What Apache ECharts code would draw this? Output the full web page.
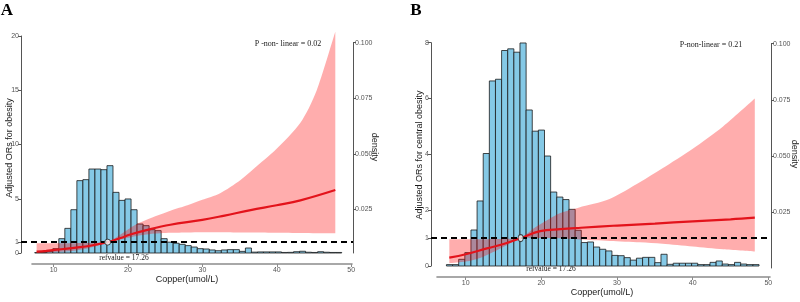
<!DOCTYPE html>
<html><head><meta charset="utf-8">
<script src="https://cdn.jsdelivr.net/npm/echarts@6/dist/echarts.min.js"></script>
<style>html,body{margin:0;padding:0;background:#fff}#c{width:800px;height:302px}</style>
</head><body><div id="c"></div>
<script>
// ---------- data ----------
const xTicks = [10, 20, 30, 40, 50];
const yTicksA = [0, 1, 5, 10, 15, 20];
const yTicksB = [0, 1, 2, 4, 6, 8];
const densityTicks = [0.025, 0.05, 0.075, 0.1];

const binStart = 7.45;
const binWidth = 0.81;
const histA = [0.04,0.04,0.15,0.4,1.32,2.27,3.99,6.67,6.76,7.74,7.74,7.68,8.05,5.59,4.85,4.98,3.99,2.67,2.52,2.15,2.06,1.32,1.0,0.9,0.8,0.68,0.55,0.4,0.37,0.28,0.21,0.28,0.31,0.31,0.15,0.46,0.08,0.1,0.1,0.1,0.1,0.05,0.06,0.12,0.16,0.07,0.05,0.12,0.07,0.05,0.05];
const histB = [0.05,0.05,0.24,0.48,1.29,2.33,4.03,6.63,6.69,7.72,7.78,7.66,7.99,5.59,4.83,4.87,3.94,2.65,2.47,2.38,2.03,1.28,0.84,0.86,0.68,0.6,0.54,0.38,0.37,0.3,0.21,0.28,0.31,0.31,0.12,0.42,0.06,0.1,0.1,0.1,0.1,0.05,0.05,0.13,0.18,0.07,0.05,0.13,0.07,0.05,0.05];

const lineXA = [7.7, 9, 11.3, 13, 14.9, 17.26, 19, 20.3, 23, 25.7, 30, 33, 36.5, 40, 43.2, 47.9];
const orA    = [0.12, 0.2, 0.37, 0.5, 0.67, 1.0, 1.38, 1.7, 2.2, 2.6, 3.05, 3.45, 3.95, 4.4, 4.85, 5.8];
const bandXA = [7.7, 10, 12, 14, 15.5, 17.26, 19, 21, 23, 25.7, 28, 30, 32.4, 35.1, 37, 40, 43.2, 45.4, 47.9];
const upperA = [0.9, 0.9, 0.9, 0.92, 0.95, 1.0, 1.7, 2.6, 3.2, 3.9, 4.4, 4.9, 5.5, 6.7, 7.8, 9.6, 12.0, 15.0, 20.4];
const lowerA = [0.02, 0.06, 0.15, 0.35, 0.6, 1.0, 1.25, 1.55, 1.75, 1.86, 1.9, 1.92, 1.92, 1.9, 1.89, 1.87, 1.85, 1.83, 1.81];

const lineXB = [7.83, 10, 12.8, 15, 17.26, 19.85, 22.5, 25.2, 30, 35, 40, 45, 48.2];
const orB    = [0.3, 0.42, 0.63, 0.79, 1.0, 1.25, 1.32, 1.37, 1.45, 1.52, 1.6, 1.67, 1.73];
const bandXB = [7.83, 10, 12, 14, 15.5, 17.26, 19, 20.5, 22.5, 25, 29, 33, 36, 40, 44, 48.2];
const upperB = [0.96, 0.96, 0.96, 0.97, 0.98, 1.0, 1.35, 1.6, 1.9, 2.1, 2.4, 3.0, 3.5, 4.2, 5.0, 6.0];
const lowerB = [0.1, 0.16, 0.3, 0.55, 0.75, 1.0, 1.0, 1.0, 0.99, 0.95, 0.9, 0.85, 0.8, 0.7, 0.6, 0.52];

const refValue = 17.26;
const refOR = 1;
const pTextA = 'P -non- linear = 0.02';
const pTextB = 'P-non-linear = 0.21';
const refText = 'refvalue = 17.26';

// ---------- build ----------
const zip = (xs, ys) => xs.map((x, i) => [x, ys[i]]);
const bins = h => h.map((v, i) => [binStart + i * binWidth, binStart + (i + 1) * binWidth, v]);

const SANS = '"Liberation Sans", Arial, sans-serif';
const SERIF = '"Liberation Serif", "Times New Roman", serif';
const tickColor = '#555';

function histSeries(data, xi, yi) {
  return {
    type: 'custom', xAxisIndex: xi, yAxisIndex: yi, z: 1, silent: true,
    data: data, encode: { x: [0, 1], y: 2 },
    renderItem: function (params, api) {
      const p0 = api.coord([api.value(0), api.value(2)]);
      const p1 = api.coord([api.value(1), 0]);
      return { type: 'rect',
        shape: { x: p0[0], y: p0[1], width: p1[0] - p0[0], height: p1[1] - p0[1] },
        style: { fill: '#85c9e6', stroke: '#1a1a1a', lineWidth: 0.8 } };
    }
  };
}
// Catmull-Rom through pixel points -> SVG path segments
function spline(pts, start) {
  let d = start ? ('M' + pts[0][0] + ' ' + pts[0][1]) : ('L' + pts[0][0] + ' ' + pts[0][1]);
  const t = 0.8;
  for (let i = 0; i < pts.length - 1; i++) {
    const p0 = pts[i - 1] || pts[i], p1 = pts[i], p2 = pts[i + 1], p3 = pts[i + 2] || pts[i + 1];
    const c1 = [p1[0] + (p2[0] - p0[0]) / 6 * t, p1[1] + (p2[1] - p0[1]) / 6 * t];
    const c2 = [p2[0] - (p3[0] - p1[0]) / 6 * t, p2[1] - (p3[1] - p1[1]) / 6 * t];
    d += 'C' + c1[0] + ' ' + c1[1] + ' ' + c2[0] + ' ' + c2[1] + ' ' + p2[0] + ' ' + p2[1];
  }
  return d;
}
function bandSeries(xs, up, lo, xi, yi) {
  return {
    type: 'custom', xAxisIndex: xi, yAxisIndex: yi, z: 2, silent: true, clip: false,
    data: xs.map((x, i) => [x, up[i], lo[i]]), encode: { x: 0, y: [1, 2] },
    renderItem: function (params, api) {
      if (params.dataIndex !== 0) return null;
      const top = xs.map((x, i) => api.coord([x, up[i]]));
      const bot = xs.map((x, i) => api.coord([x, lo[i]])).reverse();
      const d = spline(top, true) + spline(bot, false) + 'Z';
      return { type: 'path', shape: { pathData: d }, style: { fill: 'rgba(255,0,0,0.32)', stroke: null } };
    },
    markLine: { silent: true, symbol: 'none', label: { show: false },
      lineStyle: { color: '#000', type: [6, 4], width: 2 }, data: [{ yAxis: refOR }] }
  };
}
function lineSeries(xs, ys, xi, yi, size) {
  return [
    { type: 'line', xAxisIndex: xi, yAxisIndex: yi, data: zip(xs, ys), smooth: 0.4, symbol: 'none',
      lineStyle: { color: '#e3131b', width: 2.2 }, z: 4, silent: true },
    { type: 'scatter', xAxisIndex: xi, yAxisIndex: yi, data: [[refValue, refOR]], symbol: 'circle', symbolSize: size,
      itemStyle: { color: '#fff', borderColor: '#222', borderWidth: 1 }, z: 5, silent: true }
  ];
}
function hiddenX(gi, min, max) {
  return { gridIndex: gi, type: 'value', min: min, max: max, show: false };
}
function visibleX(gi, min, max) {
  return { gridIndex: gi, type: 'value', min: min, max: max,
    axisLine: { show: true, onZero: false, lineStyle: { color: '#8c8c8c', width: 1.6 } },
    axisTick: { show: true, customValues: xTicks, length: 3, lineStyle: { color: '#8c8c8c' } },
    axisLabel: { customValues: xTicks, fontSize: 7, color: tickColor, margin: 3, fontFamily: SANS },
    splitLine: { show: false } };
}
function leftY(gi, max, ticks) {
  return { gridIndex: gi, type: 'value', min: 0, max: max, position: 'left',
    axisLine: { show: true, onZero: false, lineStyle: { color: '#555', width: 1 } },
    axisTick: { show: true, customValues: ticks, length: 3, lineStyle: { color: '#555' } },
    axisLabel: { customValues: ticks, fontSize: 7, color: tickColor, margin: 2, fontFamily: SANS },
    splitLine: { show: false } };
}
function rightY(gi, min, max) {
  return { gridIndex: gi, type: 'value', min: min, max: max, position: 'right',
    axisLine: { show: true, onZero: false, lineStyle: { color: '#555', width: 1 } },
    axisTick: { show: true, customValues: densityTicks, length: 3, lineStyle: { color: '#555' } },
    axisLabel: { customValues: densityTicks, fontSize: 7, color: tickColor, margin: 2, fontFamily: SANS,
      formatter: v => v.toFixed(3) },
    splitLine: { show: false } };
}
function hiddenY(gi) { return { gridIndex: gi, type: 'value', min: 0, max: 1, show: false }; }

function txt(x, y, text, font, rot, color) {
  return { type: 'text', x: x, y: y, rotation: rot || 0, silent: true,
    style: { text: text, font: font, fill: color || '#1a1a1a', align: 'center', verticalAlign: 'middle' } };
}

const option = {
  animation: false,
  backgroundColor: '#fff',
  grid: [
    { left: 21, top: 36, width: 332, height: 217 },     // A main
    { left: 21, top: 42.7, width: 332, height: 210.3 }, // A density axis
    { left: 32, top: 36, width: 320, height: 228 },     // A x axis
    { left: 431, top: 42.7, width: 340, height: 223.3 },// B main
    { left: 431, top: 43.7, width: 340, height: 224.3 },// B density axis
    { left: 437, top: 42.7, width: 333, height: 234.3 } // B x axis
  ],
  xAxis: [
    hiddenX(0, 5.6, 50.28), hiddenX(1, 5.6, 50.28), visibleX(2, 7.1, 50.1),
    hiddenX(3, 5.41, 50.34), hiddenX(4, 5.41, 50.34), visibleX(5, 6.21, 50.22)
  ],
  yAxis: [
    leftY(0, 20, yTicksA), rightY(1, 0.00533, 0.1), hiddenY(2),
    leftY(3, 8, yTicksB), rightY(4, 0, 0.1), hiddenY(5)
  ],
  series: [
    histSeries(bins(histA), 0, 0),
    bandSeries(bandXA, upperA, lowerA, 0, 0),
    ...lineSeries(lineXA, orA, 0, 0, 6),
    histSeries(bins(histB), 3, 3),
    bandSeries(bandXB, upperB, lowerB, 3, 3),
    ...lineSeries(lineXB, orB, 3, 3, [5, 7])
  ],
  graphic: [
    txt(7, 11, 'A', 'bold 17px ' + SERIF, 0, '#000'),
    txt(416, 11, 'B', 'bold 17px ' + SERIF, 0, '#000'),
    txt(10, 148, 'Adjusted ORs for obesity', '9px ' + SANS, Math.PI / 2),
    txt(420, 155, 'Adjusted ORs for central obesity', '9px ' + SANS, Math.PI / 2),
    txt(374, 147, 'density', '9px ' + SANS, -Math.PI / 2),
    txt(794, 154, 'density', '9px ' + SANS, -Math.PI / 2),
    txt(187, 280, 'Copper(umol/L)', '9px ' + SANS),
    txt(602, 293, 'Copper(umol/L)', '9px ' + SANS),
    txt(288, 44, pTextA, '8px ' + SERIF),
    txt(711, 45, pTextB, '8px ' + SERIF),
    txt(124, 258, refText, '7.5px ' + SERIF),
    txt(551, 269, refText, '7.5px ' + SERIF)
  ]
};
const chart = echarts.init(document.getElementById('c'), null, { renderer: 'canvas' });
chart.setOption(option);
</script>
</body></html>
